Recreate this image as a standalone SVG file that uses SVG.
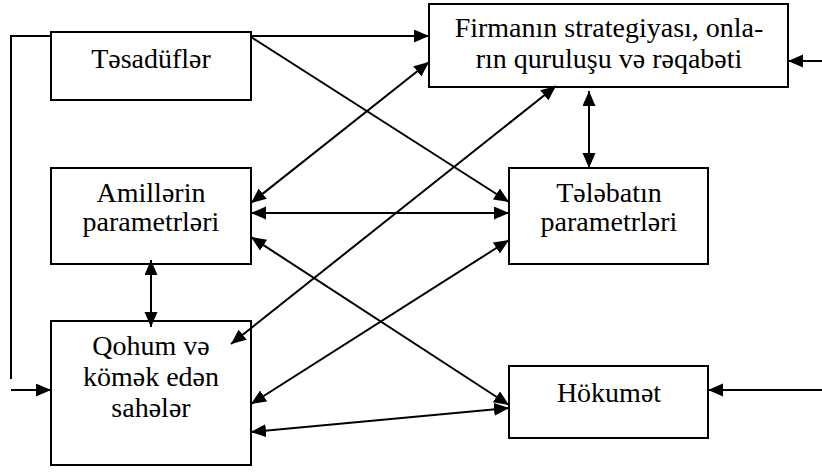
<svg xmlns="http://www.w3.org/2000/svg" width="822" height="473" viewBox="0 0 822 473">
<style>
.box{fill:#fff;stroke:#000;stroke-width:2}
.lbl{font-family:"Liberation Serif","Times New Roman",serif;font-size:28px;fill:#000;text-anchor:middle}
.c{fill:none;stroke:#000;stroke-width:2}
.a{marker-end:url(#ah)}
.b{marker-start:url(#ah);marker-end:url(#ah)}
</style>
<defs>
<marker id="ah" markerUnits="userSpaceOnUse" markerWidth="16" markerHeight="14" refX="15" refY="6.5" orient="auto-start-reverse" viewBox="0 0 16 14">
<path d="M0,0 L15,6.5 L0,13 z" fill="#000"/>
</marker>
</defs>
<rect width="822" height="473" fill="#fff"/>
<g id="tesaduf">
<rect class="box" x="51" y="32" width="200" height="68"/>
<text class="lbl" x="151" y="68">Təsadüflər</text>
</g>
<g id="firma">
<rect class="box" x="429" y="4" width="359" height="83"/>
<text class="lbl" x="609" y="37">Firmanın strategiyası, onla-</text>
<text class="lbl" x="609" y="68">rın quruluşu və rəqabəti</text>
</g>
<g id="amiller">
<rect class="box" x="51" y="168" width="200" height="96"/>
<text class="lbl" x="151" y="202">Amillərin</text>
<text class="lbl" x="151" y="231">parametrləri</text>
</g>
<g id="telebat">
<rect class="box" x="509" y="168" width="199" height="96"/>
<text class="lbl" x="609" y="202">Tələbatın</text>
<text class="lbl" x="609" y="231">parametrləri</text>
</g>
<g id="qohum">
<rect class="box" x="51" y="321" width="200" height="144"/>
<text class="lbl" x="151" y="355">Qohum və</text>
<text class="lbl" x="151" y="386">kömək edən</text>
<text class="lbl" x="151" y="417">sahələr</text>
</g>
<g id="hokumet">
<rect class="box" x="509" y="366" width="199" height="72"/>
<text class="lbl" x="609" y="402">Hökumət</text>
</g>
<g id="connectors">
<path class="c" d="M51,36 H11 V379"/>
<path class="c a" d="M11,390 H51"/>
<path class="c a" d="M251,36 H429"/>
<path class="c a" d="M251,37 L509,202"/>
<path class="c a" d="M822,61 H788"/>
<path class="c b" d="M589,91 V168"/>
<path class="c b" d="M251,203 L429,62"/>
<path class="c b" d="M251,213 H509"/>
<path class="c b" d="M231,344 L556,86"/>
<path class="c b" d="M251,237 L509,405"/>
<path class="c b" d="M251,404 L509,240"/>
<path class="c b" d="M251,432 L509,408"/>
<path class="c b" d="M151,260 V327"/>
<path class="c a" d="M822,390 H708"/>
</g>
</svg>
